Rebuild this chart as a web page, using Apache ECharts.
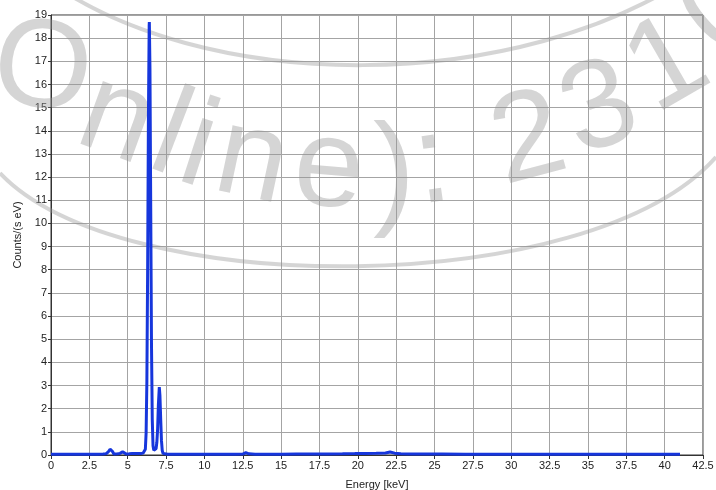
<!DOCTYPE html>
<html>
<head>
<meta charset="utf-8">
<script src="https://cdn.jsdelivr.net/npm/echarts@6/dist/echarts.min.js"></script>
<style>html,body{margin:0;padding:0;background:#fff}#c{width:716px;height:490px}</style>
</head>
<body>
<div id="c"></div>
<script>
// Energy (keV) sample points
var energy = [0, 0.5, 1.0, 1.5, 2.0, 2.5, 3.0, 3.4, 3.6, 3.75, 3.85, 3.92, 4.0, 4.1, 4.2, 4.35, 4.5, 4.6, 4.67, 4.75, 4.9, 5.1, 5.3, 5.43, 5.55, 5.7, 5.85, 6.0, 6.1, 6.15, 6.2, 6.25, 6.3, 6.35, 6.4, 6.41, 6.45, 6.5, 6.55, 6.6, 6.65, 6.7, 6.75, 6.8, 6.85, 6.9, 6.95, 7.0, 7.06, 7.1, 7.15, 7.2, 7.25, 7.3, 7.4, 7.6, 8.0, 9.0, 10.0, 11.0, 12.0, 12.5, 12.7, 12.9, 13.3, 14.0, 15.0, 16.0, 17.0, 18.0, 19.0, 19.8, 20.5, 21.2, 21.8, 22.1, 22.4, 22.8, 23.5, 24.5, 25.5, 27.0, 29.0, 31.0, 33.0, 35.0, 37.0, 39.0, 41.0];
// Counts/(s eV) at those energies
var counts = [0.03, 0.03, 0.03, 0.03, 0.03, 0.03, 0.03, 0.04, 0.06, 0.15, 0.25, 0.26, 0.16, 0.04, 0.03, 0.05, 0.07, 0.12, 0.14, 0.09, 0.04, 0.05, 0.07, 0.1, 0.07, 0.06, 0.06, 0.08, 0.1, 0.25, 0.95, 3.2, 8.1, 14.6, 18.55, 18.7, 16.7, 10.7, 4.8, 1.55, 0.4, 0.2, 0.17, 0.18, 0.28, 0.55, 1.13, 2.18, 2.93, 2.58, 1.55, 0.63, 0.2, 0.07, 0.04, 0.03, 0.03, 0.03, 0.03, 0.03, 0.03, 0.04, 0.1, 0.05, 0.03, 0.03, 0.03, 0.04, 0.04, 0.04, 0.05, 0.06, 0.07, 0.08, 0.09, 0.13, 0.08, 0.05, 0.04, 0.04, 0.04, 0.03, 0.03, 0.03, 0.03, 0.03, 0.03, 0.03, 0.03];
var xTicks = {min: 0, max: 42.5, interval: 2.5};
var yTicks = {min: 0, max: 19, interval: 1};

var seriesData = energy.map(function (e, i) { return [e, counts[i]]; });

// watermark glyphs: char, anchor x, anchor y, clockwise rotation (deg)
var wmChars = ['O', 'n', 'l', 'i', 'n', 'e', ')', ':', '2', '3', '1', '0'];
var wmX = [42, 117, 170, 198, 252, 329, 394, 432, 529, 600, 668, 726];
var wmY = [72, 120, 138, 150, 162, 171, 177, 167, 142, 111, 67, 12];
var wmRot = [8, 20, 21, 18, 12, 5, 0, -8, -15, -20, -30, -40];

var wmColor = 'rgba(150,150,150,0.4)';
var graphics = [];
wmChars.forEach(function (ch, i) {
  graphics.push({
    type: 'text', silent: true, z: 1,
    x: wmX[i], y: wmY[i], rotation: -wmRot[i] * Math.PI / 180,
    style: {
      text: ch, fontSize: 126, fontFamily: 'Liberation Sans',
      fill: wmColor, align: 'center', verticalAlign: 'middle'
    }
  });
});
graphics.push({
  type: 'bezierCurve', silent: true, z: 1,
  shape: {x1: 0, y1: 173, cpx1: 120, cpy1: 300, cpx2: 590, cpy2: 300, x2: 716, y2: 157},
  style: {stroke: wmColor, lineWidth: 4, fill: null}
});
graphics.push({
  type: 'bezierCurve', silent: true, z: 1,
  shape: {x1: 40, y1: -25, cpx1: 200, cpy1: 96, cpx2: 520, cpy2: 96, x2: 700, y2: -30},
  style: {stroke: wmColor, lineWidth: 4, fill: null}
});

var chart = echarts.init(document.getElementById('c'), null, {renderer: 'canvas'});
chart.setOption({
  backgroundColor: '#ffffff',
  animation: false,
  graphic: graphics,
  grid: {left: 51, right: 13, top: 15, bottom: 35, outerBoundsMode: 'none', containLabel: false,
         show: true, borderColor: '#333', borderWidth: 1, backgroundColor: 'transparent'},
  xAxis: {
    type: 'value', min: xTicks.min, max: xTicks.max, interval: xTicks.interval,
    name: 'Energy [keV]', nameLocation: 'middle', nameGap: 24,
    nameTextStyle: {color: '#222', fontSize: 11, fontFamily: 'Liberation Sans'},
    axisLine: {show: true, lineStyle: {color: '#333', width: 1}},
    axisTick: {show: true, length: 4, lineStyle: {color: '#333'}},
    axisLabel: {color: '#222', fontSize: 11, fontFamily: 'Liberation Sans', margin: 5},
    splitLine: {show: true, lineStyle: {color: '#a4a4a4', width: 1}}
  },
  yAxis: {
    type: 'value', min: yTicks.min, max: yTicks.max, interval: yTicks.interval,
    name: 'Counts/(s eV)', nameLocation: 'middle', nameGap: 27,
    nameTextStyle: {color: '#222', fontSize: 11, fontFamily: 'Liberation Sans'},
    axisLine: {show: true, lineStyle: {color: '#333', width: 1}},
    axisTick: {show: true, length: 3, lineStyle: {color: '#333'}},
    axisLabel: {color: '#222', fontSize: 11, fontFamily: 'Liberation Sans', margin: 4},
    splitLine: {show: true, lineStyle: {color: '#a4a4a4', width: 1}}
  },
  series: [{
    type: 'line', data: seriesData, showSymbol: false, smooth: false, z: 5,
    lineStyle: {color: '#1636dc', width: 3},
    itemStyle: {color: '#1636dc'}
  }]
});
</script>
</body>
</html>
